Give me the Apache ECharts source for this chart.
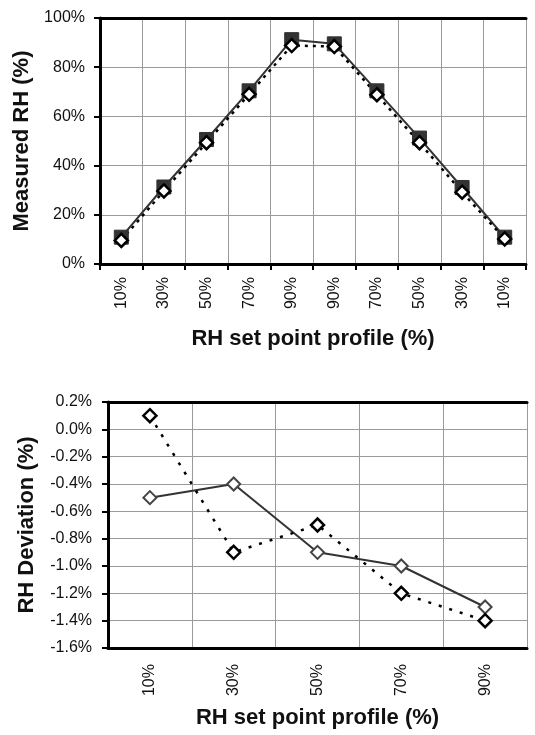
<!DOCTYPE html>
<html>
<head>
<meta charset="utf-8">
<script src="https://cdn.jsdelivr.net/npm/echarts@6/dist/echarts.min.js"></script>
<style>
  html, body { margin: 0; padding: 0; background: #fff; }
  #chart { width: 535px; height: 735px; }
</style>
</head>
<body>
<div id="chart"></div>
<script>
// top panel: RH set point profile up and down
const profileLabels = ['10%', '30%', '50%', '70%', '90%', '90%', '70%', '50%', '30%', '10%'];
const measuredA = [10.9, 31.3, 50.6, 70.4, 91.2, 89.5, 70.4, 51.2, 31.1, 10.9];
const measuredB = [9.6, 29.7, 49.3, 69.0, 88.8, 88.4, 68.8, 49.3, 29.2, 10.2];

// bottom panel: deviation per set point
const devLabels = ['10%', '30%', '50%', '70%', '90%'];
const deviationA = [-0.5, -0.4, -0.9, -1.0, -1.3];
const deviationB = [0.1, -0.9, -0.7, -1.2, -1.4];

const FONT = '"Liberation Sans", Arial, sans-serif';
const gridColor = '#9a9a9a';

function catAxis(idx, data, top) {
  return {
    type: 'category',
    gridIndex: idx,
    data: data,
    boundaryGap: true,
    axisLine: { show: true, onZero: false, lineStyle: { color: '#000', width: 3 } },
    axisTick: { show: top, length: 6, alignWithLabel: false, lineStyle: { color: '#000', width: 2 } },
    axisLabel: {
      rotate: 90, margin: top ? 13 : 16, color: '#111',
      fontFamily: FONT, fontSize: 16
    },
    splitLine: { show: true, lineStyle: { color: gridColor, width: 1 } },
    name: 'RH set point profile (%)',
    nameLocation: 'middle',
    nameGap: idx === 0 ? 64 : 59,
    nameTextStyle: { fontFamily: FONT, fontWeight: 'bold', fontSize: 22, color: '#111' }
  };
}

// plain top border line of each panel
function topBorder(idx, data) {
  return {
    type: 'category', gridIndex: idx, data: data, position: 'top',
    axisLine: { show: true, onZero: false, lineStyle: { color: '#000', width: 3 } },
    axisTick: { show: false }, axisLabel: { show: false }, splitLine: { show: false }
  };
}

function valAxis(idx, opts) {
  return Object.assign({
    type: 'value',
    gridIndex: idx,
    axisLine: { show: true, onZero: false, lineStyle: { color: '#000', width: 3 } },
    axisTick: { show: true, length: 6, lineStyle: { color: '#000', width: 2 } },
    splitLine: { show: true, lineStyle: { color: gridColor, width: 1 } },
    nameLocation: 'middle',
    nameTextStyle: { fontFamily: FONT, fontWeight: 'bold', fontSize: 22, color: '#111' }
  }, opts);
}

const chart = echarts.init(document.getElementById('chart'));
chart.setOption({
  animation: false,
  grid: [
    { left: 100, top: 18, right: 9, height: 246 },
    { left: 108, top: 402, right: 8, height: 246 }
  ],
  xAxis: [
    catAxis(0, profileLabels, true),
    catAxis(1, devLabels, false),
    topBorder(0, profileLabels),
    topBorder(1, devLabels)
  ],
  yAxis: [
    valAxis(0, {
      min: 0, max: 100, interval: 20,
      name: 'Measured RH (%)', nameGap: 60,
      axisLabel: { margin: 15, color: '#111', fontFamily: FONT, fontSize: 16,
        formatter: v => v + '%' }
    }),
    valAxis(1, {
      min: -1.6, max: 0.2, interval: 0.2,
      name: 'RH Deviation (%)', nameGap: 70,
      axisLabel: { margin: 16, color: '#111', fontFamily: FONT, fontSize: 16,
        formatter: v => (Math.abs(v) < 1e-9 ? 0 : v).toFixed(1) + '%' }
    })
  ],
  series: [
    {
      type: 'line', xAxisIndex: 0, yAxisIndex: 0, data: measuredA,
      symbol: 'rect', symbolSize: 14,
      lineStyle: { color: '#333', width: 2 },
      itemStyle: { color: '#333', borderColor: '#333' }
    },
    {
      type: 'line', xAxisIndex: 0, yAxisIndex: 0, data: measuredB,
      symbol: 'diamond', symbolSize: 13,
      lineStyle: { color: '#000', width: 2.5, type: [3, 5] },
      itemStyle: { color: '#fff', borderColor: '#000', borderWidth: 2.5 }
    },
    {
      type: 'line', xAxisIndex: 1, yAxisIndex: 1, data: deviationA,
      symbol: 'diamond', symbolSize: 13,
      lineStyle: { color: '#333', width: 2 },
      itemStyle: { color: '#fff', borderColor: '#444', borderWidth: 2 }
    },
    {
      type: 'line', xAxisIndex: 1, yAxisIndex: 1, data: deviationB,
      symbol: 'diamond', symbolSize: 13,
      lineStyle: { color: '#000', width: 2.5, type: [3, 8] },
      itemStyle: { color: '#fff', borderColor: '#000', borderWidth: 2.5 }
    }
  ]
});
</script>
</body>
</html>
